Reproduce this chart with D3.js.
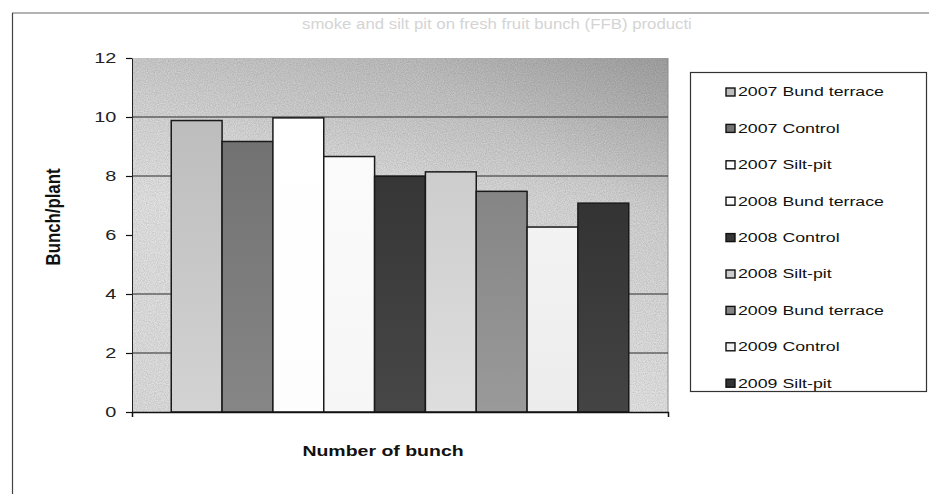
<!DOCTYPE html>
<html>
<head>
<meta charset="utf-8">
<script src="https://cdn.jsdelivr.net/npm/d3@7"></script>
<style>
  body { margin: 0; background: #fff; }
  svg { display: block; font-family: "Liberation Sans", Arial, sans-serif; }
</style>
</head>
<body>
<svg width="929" height="494"></svg>
<script>
// data
const categories = ["Number of bunch"];
const seriesNames = [
  "2007 Bund terrace", "2007 Control", "2007 Silt-pit",
  "2008 Bund terrace", "2008 Control", "2008 Silt-pit",
  "2009 Bund terrace", "2009 Control", "2009 Silt-pit"
];
const seriesValues = [9.88, 9.17, 9.97, 8.66, 7.99, 8.14, 7.48, 6.27, 7.08];
const yTicks = [0, 2, 4, 6, 8, 10, 12];
const gridValues = [2, 4, 8, 10];   // the 6 line is not visible in the scan

// greys for each series (bar fill top, bar fill bottom)
const palette = [
  ["#bdbdbd", "#d3d3d3"], ["#727272", "#868686"], ["#ffffff", "#fdfdfd"],
  ["#fbfbfb", "#f6f6f6"], ["#363636", "#474747"], ["#cdcdcd", "#dedede"],
  ["#858585", "#9a9a9a"], ["#f3f3f3", "#ececec"], ["#333333", "#444444"]
];

// the scan is stretched sideways, so the text is too
const sx = 1.42;

const svg = d3.select("svg");
const margin = {top: 58, right: 261, bottom: 82, left: 132};
const width = +svg.attr("width") - margin.left - margin.right;
const height = +svg.attr("height") - margin.top - margin.bottom;

const defs = svg.append("defs");

const bg = defs.append("linearGradient").attr("id", "bg")
    .attr("x1", "0%").attr("y1", "100%").attr("x2", "100%").attr("y2", "0%");
bg.append("stop").attr("offset", "0%").attr("stop-color", "#dedede");
bg.append("stop").attr("offset", "45%").attr("stop-color", "#e6e6e6");
bg.append("stop").attr("offset", "75%").attr("stop-color", "#d4d4d4");
bg.append("stop").attr("offset", "100%").attr("stop-color", "#b4b4b4");

const band = defs.append("linearGradient").attr("id", "band")
    .attr("x1", "0%").attr("y1", "0%").attr("x2", "0%").attr("y2", "100%");
band.append("stop").attr("offset", "0%").attr("stop-color", "#000").attr("stop-opacity", 0.1);
band.append("stop").attr("offset", "18%").attr("stop-color", "#000").attr("stop-opacity", 0.06);
band.append("stop").attr("offset", "40%").attr("stop-color", "#000").attr("stop-opacity", 0);

palette.forEach(function(p, i) {
  const lg = defs.append("linearGradient").attr("id", "bar" + i)
      .attr("x1", "0%").attr("y1", "0%").attr("x2", "0%").attr("y2", "100%");
  lg.append("stop").attr("offset", "0%").attr("stop-color", p[0]);
  lg.append("stop").attr("offset", "100%").attr("stop-color", p[1]);
});

// scan grain
const grain = defs.append("filter").attr("id", "grain")
    .attr("x", 0).attr("y", 0).attr("width", "100%").attr("height", "100%");
grain.append("feTurbulence").attr("type", "fractalNoise")
    .attr("baseFrequency", 0.9).attr("numOctaves", 2).attr("seed", 3).attr("result", "n");
grain.append("feColorMatrix").attr("in", "n").attr("type", "matrix")
    .attr("values", "0 0 0 0 0  0 0 0 0 0  0 0 0 0 0  0 0 0 0.22 -0.06");

// ghost text showing through from the scanned page
svg.append("g")
    .attr("transform", "translate(302,29) scale(1.12,1)")
  .append("text")
    .attr("fill", "#d4d4d4")
    .style("font-size", "15px")
    .text("smoke and silt pit on fresh fruit bunch (FFB) producti");

// chart frame
svg.append("line").attr("x1", 12).attr("x2", 929).attr("y1", 13).attr("y2", 13)
    .attr("stroke", "#9a9a9a").attr("stroke-width", 1.5);
svg.append("line").attr("x1", 12.5).attr("x2", 12.5).attr("y1", 13).attr("y2", 494)
    .attr("stroke", "#444").attr("stroke-width", 1.2);

const g = svg.append("g")
    .attr("transform", "translate(" + margin.left + "," + margin.top + ")");

const x0 = d3.scaleBand().domain(categories).range([0, width]).padding(0.079);
const x1 = d3.scaleBand().domain(seriesNames).range([0, x0.bandwidth()]);
const y = d3.scaleLinear().domain([0, 12]).range([height, 0]);

g.append("rect")
    .attr("width", width).attr("height", height)
    .attr("fill", "url(#bg)");
g.append("rect")
    .attr("width", width).attr("height", height)
    .attr("fill", "url(#band)");
g.append("rect")
    .attr("width", width).attr("height", height)
    .attr("filter", "url(#grain)");
g.append("line")
    .attr("x1", width).attr("x2", width).attr("y1", 0).attr("y2", height)
    .attr("stroke", "#8a8a8a");

g.append("g")
    .attr("class", "grid")
    .selectAll("line")
    .data(gridValues)
    .enter().append("line")
        .attr("x1", 0).attr("x2", width)
        .attr("y1", function(d) { return y(d); })
        .attr("y2", function(d) { return y(d); })
        .attr("stroke", "#2a2a2a")
        .attr("stroke-width", 1.2);

const bars = g.append("g")
    .selectAll("g")
    .data(categories)
    .enter().append("g")
        .attr("transform", function(d) { return "translate(" + x0(d) + ",0)"; });

bars.selectAll("rect")
    .data(seriesNames.map(function(s, i) { return {name: s, value: seriesValues[i], i: i}; }))
    .enter().append("rect")
        .attr("x", function(d) { return x1(d.name); })
        .attr("y", function(d) { return y(d.value); })
        .attr("width", x1.bandwidth())
        .attr("height", function(d) { return height - y(d.value); })
        .attr("fill", function(d) { return "url(#bar" + d.i + ")"; })
        .attr("stroke", "#1a1a1a")
        .attr("stroke-width", 1.5);

const xAxis = g.append("g")
    .attr("class", "x axis")
    .attr("transform", "translate(0," + height + ")")
    .call(d3.axisBottom(x0).tickSizeInner(0).tickSizeOuter(5).tickFormat(""));
xAxis.select(".domain").attr("stroke", "#111").attr("stroke-width", 1.5);

const yAxis = g.append("g")
    .attr("class", "y axis")
    .call(d3.axisLeft(y).tickValues(yTicks).tickSizeInner(6).tickSizeOuter(0).tickPadding(5));
yAxis.select(".domain").attr("stroke", "#222");
yAxis.selectAll(".tick line").attr("stroke", "#111").attr("stroke-width", 1.2);
yAxis.selectAll("text")
    .attr("fill", "#222")
    .attr("transform", "scale(" + sx + ",1)")
    .style("font-size", "14px")
    .style("font-family", "'Liberation Sans', Arial, sans-serif");

svg.append("g")
    .attr("transform", "translate(60,217) rotate(-90) scale(1.12,1.3)")
  .append("text")
    .attr("text-anchor", "middle")
    .attr("fill", "#111")
    .style("font-size", "15px")
    .style("font-weight", "bold")
    .text("Bunch/plant");

svg.append("g")
    .attr("transform", "translate(383,456) scale(1.3,1)")
  .append("text")
    .attr("text-anchor", "middle")
    .attr("fill", "#111")
    .style("font-size", "15px")
    .style("font-weight", "bold")
    .text("Number of bunch");

// legend
const legend = svg.append("g").attr("class", "legend");
legend.append("rect")
    .attr("x", 690.5).attr("y", 72.5)
    .attr("width", 236).attr("height", 319)
    .attr("fill", "#fff")
    .attr("stroke", "#333")
    .attr("stroke-width", 1.2);

const item = legend.selectAll(".item")
    .data(seriesNames)
    .enter().append("g")
        .attr("class", "item")
        .attr("transform", function(d, i) { return "translate(726," + (92 + i * 36.4) + ")"; });

item.append("rect")
    .attr("x", 0).attr("y", -4)
    .attr("width", 9).attr("height", 8)
    .attr("fill", function(d, i) { return palette[i][0]; })
    .attr("stroke", "#111")
    .attr("stroke-width", 1.4);

item.append("g")
    .attr("transform", "translate(12,0) scale(" + sx + ",1)")
  .append("text")
    .attr("dy", "0.35em")
    .attr("fill", "#111")
    .style("font-size", "12.5px")
    .text(function(d) { return d; });
</script>
</body>
</html>
